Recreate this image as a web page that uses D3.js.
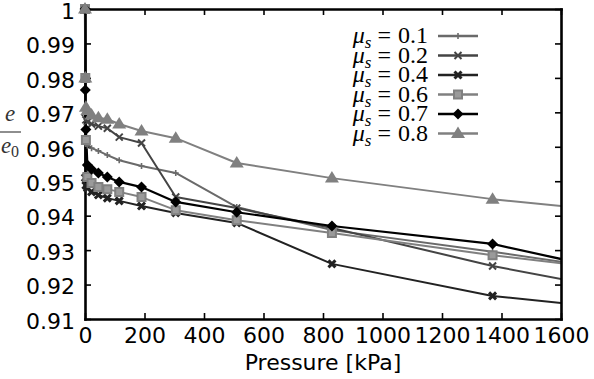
<!DOCTYPE html>
<html><head><meta charset="utf-8">
<script src="https://cdn.jsdelivr.net/npm/d3@7"></script>
<style>body{margin:0;background:#fff}svg{display:block}</style>
</head><body><svg id="c" width="594" height="379"></svg>
<script>
// ---- data ----
const pressure = [0, 1, 3, 8, 22, 45, 75, 115, 190, 305, 510, 830, 1370, 2000];
const mu01 = [1.0, 0.962, 0.9608, 0.9603, 0.9596, 0.9588, 0.9576, 0.9561, 0.9544, 0.9524, 0.9425, 0.9358, 0.9295, 0.9216];
const mu02 = [1.0, 0.970, 0.9678, 0.9672, 0.9666, 0.9660, 0.9654, 0.9628, 0.9611, 0.9454, 0.9422, 0.9364, 0.9254, 0.9150];
const mu04 = [1.0, 0.951, 0.9488, 0.9480, 0.9469, 0.9460, 0.9451, 0.9443, 0.9428, 0.9408, 0.9379, 0.9260, 0.9167, 0.9110];
const mu06 = [1.0, 0.980, 0.9620, 0.9512, 0.9495, 0.9483, 0.9477, 0.9469, 0.9454, 0.9416, 0.9387, 0.9350, 0.9285, 0.9222];
const mu07 = [1.0, 0.9765, 0.9650, 0.9547, 0.9535, 0.9524, 0.9512, 0.9498, 0.9483, 0.9440, 0.9410, 0.9370, 0.9318, 0.9198];
const mu08 = [1.0, 0.980, 0.9715, 0.9705, 0.9692, 0.9684, 0.9680, 0.9666, 0.9646, 0.9625, 0.9553, 0.9509, 0.9448, 0.9393];
const seriesLabels = ["0.1", "0.2", "0.4", "0.6", "0.7", "0.8"];
const xTicks = [0, 200, 400, 600, 800, 1000, 1200, 1400, 1600];
const yTicks = [0.91, 0.92, 0.93, 0.94, 0.95, 0.96, 0.97, 0.98, 0.99, 1];
const xTitle = "Pressure [kPa]";

// ---- styles ----
const styles = [
  {color: "#6a6a6a", width: 2,   marker: "plus"},
  {color: "#444444", width: 2,   marker: "x"},
  {color: "#222222", width: 2,   marker: "xb"},
  {color: "#808080", width: 2,   marker: "square"},
  {color: "#000000", width: 2.2, marker: "diamond"},
  {color: "#808080", width: 2,   marker: "triangle"}
];
const allValues = [mu01, mu02, mu04, mu06, mu07, mu08];
const series = allValues.map((vals, i) => ({
  label: seriesLabels[i], style: styles[i],
  pts: pressure.map((p, j) => ({p, v: vals[j]}))
}));

const L = 85, R = 561, T = 9, B = 319;
const svg = d3.select("#c");
const x = d3.scaleLinear().domain([0, 1600]).range([L, R]);
const y = d3.scaleLinear().domain([0.91, 1]).range([B, T]);

svg.append("defs").append("clipPath").attr("id", "clip")
  .append("rect").attr("x", L - 2).attr("y", T - 2).attr("width", R - L + 2).attr("height", B - T + 4);

// lines
const line = d3.line().x(d => x(d.p)).y(d => y(d.v));
const gl = svg.append("g").attr("clip-path", "url(#clip)");
series.forEach(s => {
  gl.append("path").datum(s.pts).attr("d", line).attr("fill", "none")
    .attr("stroke", s.style.color).attr("stroke-width", s.style.width)
    .attr("stroke-linejoin", "round");
});

// axes (inward ticks)
const font = "'DejaVu Sans', sans-serif";
const axB = d3.axisBottom(x).tickValues(xTicks).tickSize(-6).tickSizeOuter(0).tickPadding(8).tickFormat(d3.format("d"));
const axL = d3.axisLeft(y).tickValues(yTicks).tickSize(-6).tickSizeOuter(0).tickPadding(10)
  .tickFormat(d => d === 1 ? "1" : d.toFixed(2));
const axT = d3.axisTop(x).tickValues(xTicks).tickSize(-6).tickSizeOuter(0).tickFormat("");
const axR = d3.axisRight(y).tickValues(yTicks).tickSize(-6).tickSizeOuter(0).tickFormat("");
const gB = svg.append("g").attr("transform", `translate(0,${B})`).call(axB);
const gLf = svg.append("g").attr("transform", `translate(${L},0)`).call(axL);
const gT = svg.append("g").attr("transform", `translate(0,${T})`).call(axT);
const gR = svg.append("g").attr("transform", `translate(${R},0)`).call(axR);
[gB, gLf, gT, gR].forEach(g => {
  g.select(".domain").attr("stroke", "#000").attr("stroke-width", 2.6).attr("stroke-linecap", "square");
  g.selectAll(".tick line").attr("stroke", "#000").attr("stroke-width", 1.6);
  g.selectAll(".tick text").attr("font-family", font).attr("font-size", 22).attr("fill", "#000");
});
gLf.selectAll(".tick text").attr("dy", "0.42em");

// markers
function markerPath(type) {
  switch (type) {
    case "plus": return "M-3,0H3M0,-3V3";
    case "x": return "M-3.5,-3.5L3.5,3.5M-3.5,3.5L3.5,-3.5";
    case "xb": return "M-3.5,-3.5L3.5,3.5M-3.5,3.5L3.5,-3.5";
    case "square": return "M-4,-4H4V4H-4Z";
    case "diamond": return "M0,-5.5L5.5,0L0,5.5L-5.5,0Z";
    case "triangle": return "M-7,4.5L7,4.5L0,-7Z";
  }
}
function drawMarker(g, type, color, cx, cy) {
  const p = g.append("path").attr("d", markerPath(type)).attr("transform", `translate(${cx},${cy})`);
  if (type === "plus") p.attr("fill", "none").attr("stroke", color).attr("stroke-width", 1.6);
  else if (type === "x") p.attr("fill", "none").attr("stroke", color).attr("stroke-width", 2);
  else if (type === "xb") p.attr("fill", "none").attr("stroke", color).attr("stroke-width", 3);
  else if (type === "square") p.attr("fill", "#9a9a9a").attr("stroke", color).attr("stroke-width", 2);
  else p.attr("fill", color).attr("stroke", "none");
}
const gm = svg.append("g");
series.forEach(s => {
  s.pts.filter(d => d.p <= 1600).forEach(d => drawMarker(gm, s.style.marker, s.style.color, x(d.p), y(d.v)));
});

// legend
const serif = "'Liberation Serif', 'DejaVu Serif', serif";
const leg = svg.append("g");
series.forEach((s, i) => {
  const cy = 36 + i * 19.5;
  const t = leg.append("text").attr("x", 428).attr("y", cy + 7).attr("text-anchor", "end")
    .attr("font-family", serif).attr("font-size", 24).attr("fill", "#000");
  t.append("tspan").attr("font-style", "italic").text("μ");
  t.append("tspan").attr("font-style", "italic").attr("font-size", 17).attr("dy", 5).text("s");
  t.append("tspan").attr("dy", -5).attr("dx", 6).text("=");
  t.append("tspan").attr("dx", 7).text(s.label);
  leg.append("line").attr("x1", 438).attr("x2", 478).attr("y1", cy).attr("y2", cy)
    .attr("stroke", s.style.color).attr("stroke-width", s.style.width + 0.5);
  drawMarker(leg, s.style.marker, s.style.color, 458, cy);
});

// axis titles
svg.append("text").attr("x", (L + R) / 2).attr("y", 370).attr("text-anchor", "middle")
  .attr("font-family", font).attr("font-size", 22).attr("fill", "#000").text(xTitle);
const yl = svg.append("g").attr("fill", "#333").attr("font-family", serif).attr("font-style", "italic");
yl.append("text").attr("x", 10).attr("y", 121).attr("text-anchor", "middle").attr("font-size", 23).text("e");
yl.append("line").attr("x1", 0).attr("x2", 21).attr("y1", 132).attr("y2", 132).attr("stroke", "#444").attr("stroke-width", 1.2);
const e0 = yl.append("text").attr("x", 10).attr("y", 153).attr("text-anchor", "middle").attr("font-size", 23);
e0.append("tspan").text("e");
e0.append("tspan").attr("font-style", "normal").attr("font-size", 16).attr("dy", 4).text("0");
</script></body></html>
